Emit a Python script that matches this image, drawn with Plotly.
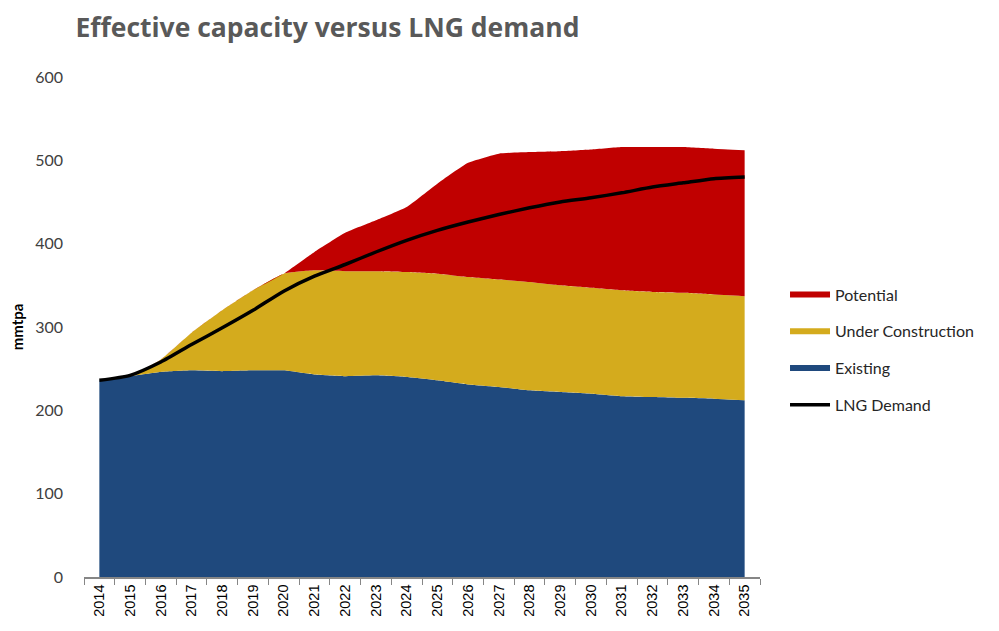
import plotly.graph_objects as go

years = [str(y) for y in range(2014, 2036)]
existing = [236, 241, 246, 248, 247, 248, 248, 243, 241, 242, 240, 236, 231, 228, 224, 222, 220, 217, 216, 215, 214, 212]
under_construction = [0, 0, 15, 45, 73, 96, 116, 125, 126, 125, 126, 128, 129, 129, 130, 128, 127, 127, 126, 126, 125, 125]
potential = [0, 0, 0, 0, 0, 0, 0, 22, 46, 61, 78, 108, 137, 151, 156, 161, 166, 172, 174, 175, 175, 175]
demand = [236, 242, 258, 279, 299, 320, 343, 361, 375, 390, 404, 416, 426, 435, 443, 450, 455, 461, 468, 473, 478, 480]

fig = go.Figure()
fig.add_trace(go.Scatter(x=years, y=existing, name="Existing", stackgroup="cap", mode="none",
                         fillcolor="#1F497D", line=dict(width=0, shape="spline", smoothing=0.5),
                         legendrank=3, legendgroup="c"))
fig.add_trace(go.Scatter(x=years, y=under_construction, name="Under Construction", stackgroup="cap", mode="none",
                         fillcolor="#D4AB1D", line=dict(width=0, shape="spline", smoothing=0.5),
                         legendrank=2, legendgroup="b"))
fig.add_trace(go.Scatter(x=years, y=potential, name="Potential", stackgroup="cap", mode="none",
                         fillcolor="#C00000", line=dict(width=0, shape="spline", smoothing=0.4),
                         legendrank=1, legendgroup="a"))
fig.add_trace(go.Scatter(x=years, y=demand, name="LNG Demand", mode="lines",
                         line=dict(color="black", width=3.5, shape="spline", smoothing=0.6),
                         legendrank=4, legendgroup="d"))

fig.update_layout(
    width=991, height=623,
    paper_bgcolor="white", plot_bgcolor="white",
    margin=dict(l=76, r=239, t=69, b=54),
    font=dict(family="Lato, Open Sans, sans-serif", color="#404040"),
    title=dict(text="<b>Effective capacity versus LNG demand</b>", x=0.068, xanchor="left",
               y=0.968, yanchor="middle",
               font=dict(size=26.5, color="#595959", family="Open Sans, Lato, sans-serif")),
    showlegend=True,
    legend=dict(x=1.037, xanchor="left", y=0.454, yanchor="middle",
                font=dict(size=16, color="#262626"), tracegroupgap=13,
                itemwidth=40, bgcolor="rgba(0,0,0,0)"),
    xaxis=dict(type="category", range=[-0.5, 21.5], tickson="boundaries", ticks="outside",
               ticklen=6, tickcolor="#868686", showline=True, linecolor="#868686", linewidth=1.5,
               tickangle=-90, showgrid=False, automargin=False,
               tickfont=dict(family="Liberation Sans, Arial, sans-serif", size=14.5, color="#000000")),
    yaxis=dict(range=[0, 600], tickvals=[0, 100, 200, 300, 400, 500, 600], showgrid=False,
               zeroline=False, showline=False, ticks="", ticklabelstandoff=20, automargin=False,
               tickfont=dict(size=16, color="#404040"),
               title=dict(text="<b>mmtpa</b>", font=dict(size=15, color="#000000"), standoff=8)),
)

fig.write_html("out.html")
